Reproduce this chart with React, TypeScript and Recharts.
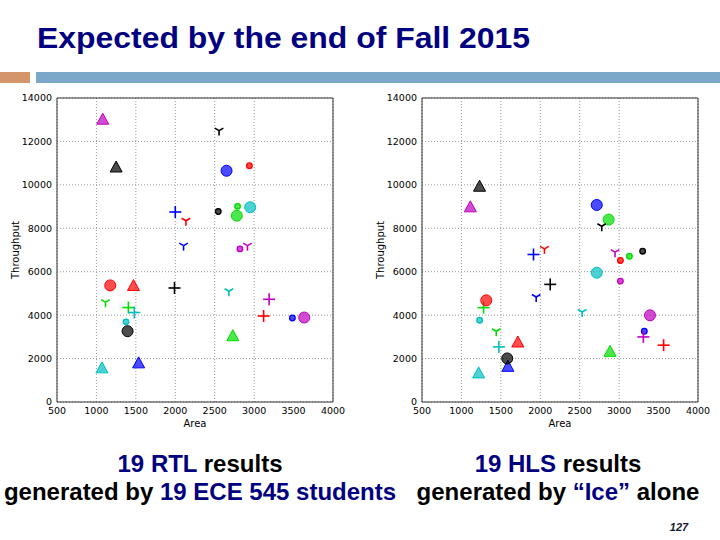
import React from "react";
import {
  ScatterChart,
  Scatter,
  XAxis,
  YAxis,
  CartesianGrid,
  ReferenceArea,
  Label,
} from "recharts";

// design id = colour letter + marker letter (o big circle, s small dot, ^ triangle, 1 tri-down, + plus)
const designs = [
  "bo", "bs", "b^", "b1", "b+",
  "go", "gs", "g^", "g1", "g+",
  "ro", "rs", "r^", "r1", "r+",
  "co", "cs", "c^", "c1", "c+",
  "mo", "ms", "m^", "m1", "m+",
  "ko", "ks", "k^", "k1", "k+",
];

const rtlArea = [
  2650, 3485, 1535, 2105, 2000,
  2780, 2790, 2730, 1115, 1405,
  1175, 2940, 1470, 2135, 3120,
  2950, 1375, 1070, 2680, 1480,
  3635, 2820, 1080, 2915, 3190,
  1395, 2545, 1250, 2555, 1990,
];
const rtlThroughput = [
  10650, 3870, 1780, 7200, 8750,
  8580, 9010, 3030, 4600, 4350,
  5370, 10880, 5340, 8350, 3960,
  8970, 3690, 1550, 5100, 4120,
  3890, 7050, 13000, 7200, 4730,
  3260, 8770, 10800, 12500, 5250,
];

const hlsArea = [
  2716, 3319, 1589, 1948, 1914,
  2867, 3130, 2885, 1442, 1281,
  1315, 3016, 1715, 2053, 3564,
  2716, 1231, 1218, 2531, 1475,
  3391, 3016, 1113, 2948, 3307,
  1581, 3298, 1230, 2779, 2126,
];
const hlsThroughput = [
  9074, 3259, 1620, 4833, 6793,
  8400, 6715, 2309, 3259, 4347,
  4682, 6518, 2740, 7054, 2616,
  5953, 3764, 1317, 4145, 2538,
  3993, 5568, 8965, 6900, 2997,
  2006, 6945, 9914, 8092, 5416,
];

const areaTicks = [500, 1000, 1500, 2000, 2500, 3000, 3500, 4000];
const throughputTicks = [0, 2000, 4000, 6000, 8000, 10000, 12000, 14000];

const COLORS: Record<string, string> = {
  b: "#0000ff",
  g: "#00dd00",
  r: "#ff0000",
  c: "#00bfbf",
  m: "#bf00bf",
  k: "#000000",
};

const NAVY = "#000080";
const TICK = { fontSize: 9.5, fill: "#000", fontFamily: "DejaVu Sans" };

function Marker(props: any) {
  const { cx, cy, payload } = props;
  if (cx == null || cy == null) return null;
  const col = COLORS[payload.design[0]];
  const kind = payload.design[1];
  const filled = { fill: col, fillOpacity: 0.7, stroke: col, strokeWidth: 1 };
  if (kind === "o") return <circle cx={cx} cy={cy} r={5.5} {...filled} />;
  if (kind === "s") return <circle cx={cx} cy={cy} r={2.8} {...filled} strokeWidth={1.3} />;
  if (kind === "^")
    return (
      <polygon
        points={`${cx},${cy - 6.5} ${cx - 6},${cy + 4.5} ${cx + 6},${cy + 4.5}`}
        {...filled}
      />
    );
  if (kind === "1")
    return (
      <g stroke={col} strokeWidth={1.6} fill="none">
        <line x1={cx} y1={cy} x2={cx} y2={cy + 5} />
        <line x1={cx} y1={cy} x2={cx - 4.3} y2={cy - 2.5} />
        <line x1={cx} y1={cy} x2={cx + 4.3} y2={cy - 2.5} />
      </g>
    );
  return (
    <g stroke={col} strokeWidth={1.6}>
      <line x1={cx - 6} y1={cy} x2={cx + 6} y2={cy} />
      <line x1={cx} y1={cy - 6} x2={cx} y2={cy + 6} />
    </g>
  );
}

function YTitle({ viewBox }: any) {
  const x = viewBox.x + 15;
  const y = viewBox.y + viewBox.height / 2;
  return (
    <text
      x={x}
      y={y}
      transform={`rotate(-90 ${x} ${y})`}
      textAnchor="middle"
      dominantBaseline="central"
      fontSize={10}
      fontFamily="DejaVu Sans"
      fill="#000"
    >
      Throughput
    </text>
  );
}

function XTitle({ viewBox }: any) {
  return (
    <text
      x={viewBox.x + viewBox.width / 2}
      y={viewBox.y + 25}
      textAnchor="middle"
      fontSize={10}
      fontFamily="DejaVu Sans"
      fill="#000"
    >
      Area
    </text>
  );
}

function Plot({ area, throughput, left }: { area: number[]; throughput: number[]; left: number }) {
  const data = designs.map((design, i) => ({ design, area: area[i], throughput: throughput[i] }));
  return (
    <div style={{ position: "absolute", left, top: 85 }}>
      <ScatterChart width={345} height={350} margin={{ top: 13, right: 12, left: 0, bottom: 0 }}>
        <CartesianGrid stroke="#999" strokeDasharray="1 2" />
        <XAxis
          type="number"
          dataKey="area"
          domain={[500, 4000]}
          ticks={areaTicks}
          tick={TICK}
          axisLine={false}
          tickLine={false}
          tickSize={3}
          height={33}
          allowDataOverflow
        >
          <Label content={<XTitle />} />
        </XAxis>
        <YAxis
          type="number"
          dataKey="throughput"
          domain={[0, 14000]}
          ticks={throughputTicks}
          tick={TICK}
          axisLine={false}
          tickLine={false}
          tickSize={3}
          width={57}
          allowDataOverflow
        >
          <Label content={<YTitle />} />
        </YAxis>
        <ReferenceArea x1={500} x2={4000} y1={0} y2={14000} fill="none" stroke="#333" strokeWidth={1} />
        <Scatter data={data} shape={<Marker />} isAnimationActive={false} />
      </ScatterChart>
    </div>
  );
}

export default function App() {
  return (
    <div
      style={{
        position: "absolute",
        left: 0,
        top: 0,
        width: 720,
        height: 540,
        background: "#fff",
        overflow: "hidden",
      }}
    >
      <svg width={720} height={540} style={{ position: "absolute", left: 0, top: 0 }}>
        <g fontFamily="'Liberation Sans', Arial, sans-serif" fontWeight="bold">
          <text x={37} y={48} fontSize={30} fill={NAVY} textLength={493} lengthAdjust="spacingAndGlyphs">
            Expected by the end of Fall 2015
          </text>
          <rect x={0} y={72} width={30} height={11} fill="#d4956a" />
          <rect x={36} y={72} width={684} height={11} fill="#7ba7c9" />

          <text x={200} y={472} fontSize={24} textAnchor="middle" fill="#000">
            <tspan fill={NAVY}>19 RTL</tspan> results
          </text>
          <text x={200} y={500} fontSize={24} textAnchor="middle" fill="#000">
            generated by <tspan fill={NAVY}>19 ECE 545 students</tspan>
          </text>
          <text x={558} y={472} fontSize={24} textAnchor="middle" fill="#000">
            <tspan fill={NAVY}>19 HLS</tspan> results
          </text>
          <text x={558} y={500} fontSize={24} textAnchor="middle" fill="#000">
            generated by <tspan fill={NAVY}>“Ice”</tspan> alone
          </text>
          <text x={679} y={531} fontSize={11} fontStyle="italic" textAnchor="middle" fill="#1a1a33">
            127
          </text>
        </g>
      </svg>
      <Plot area={rtlArea} throughput={rtlThroughput} left={0} />
      <Plot area={hlsArea} throughput={hlsThroughput} left={365} />
    </div>
  );
}
